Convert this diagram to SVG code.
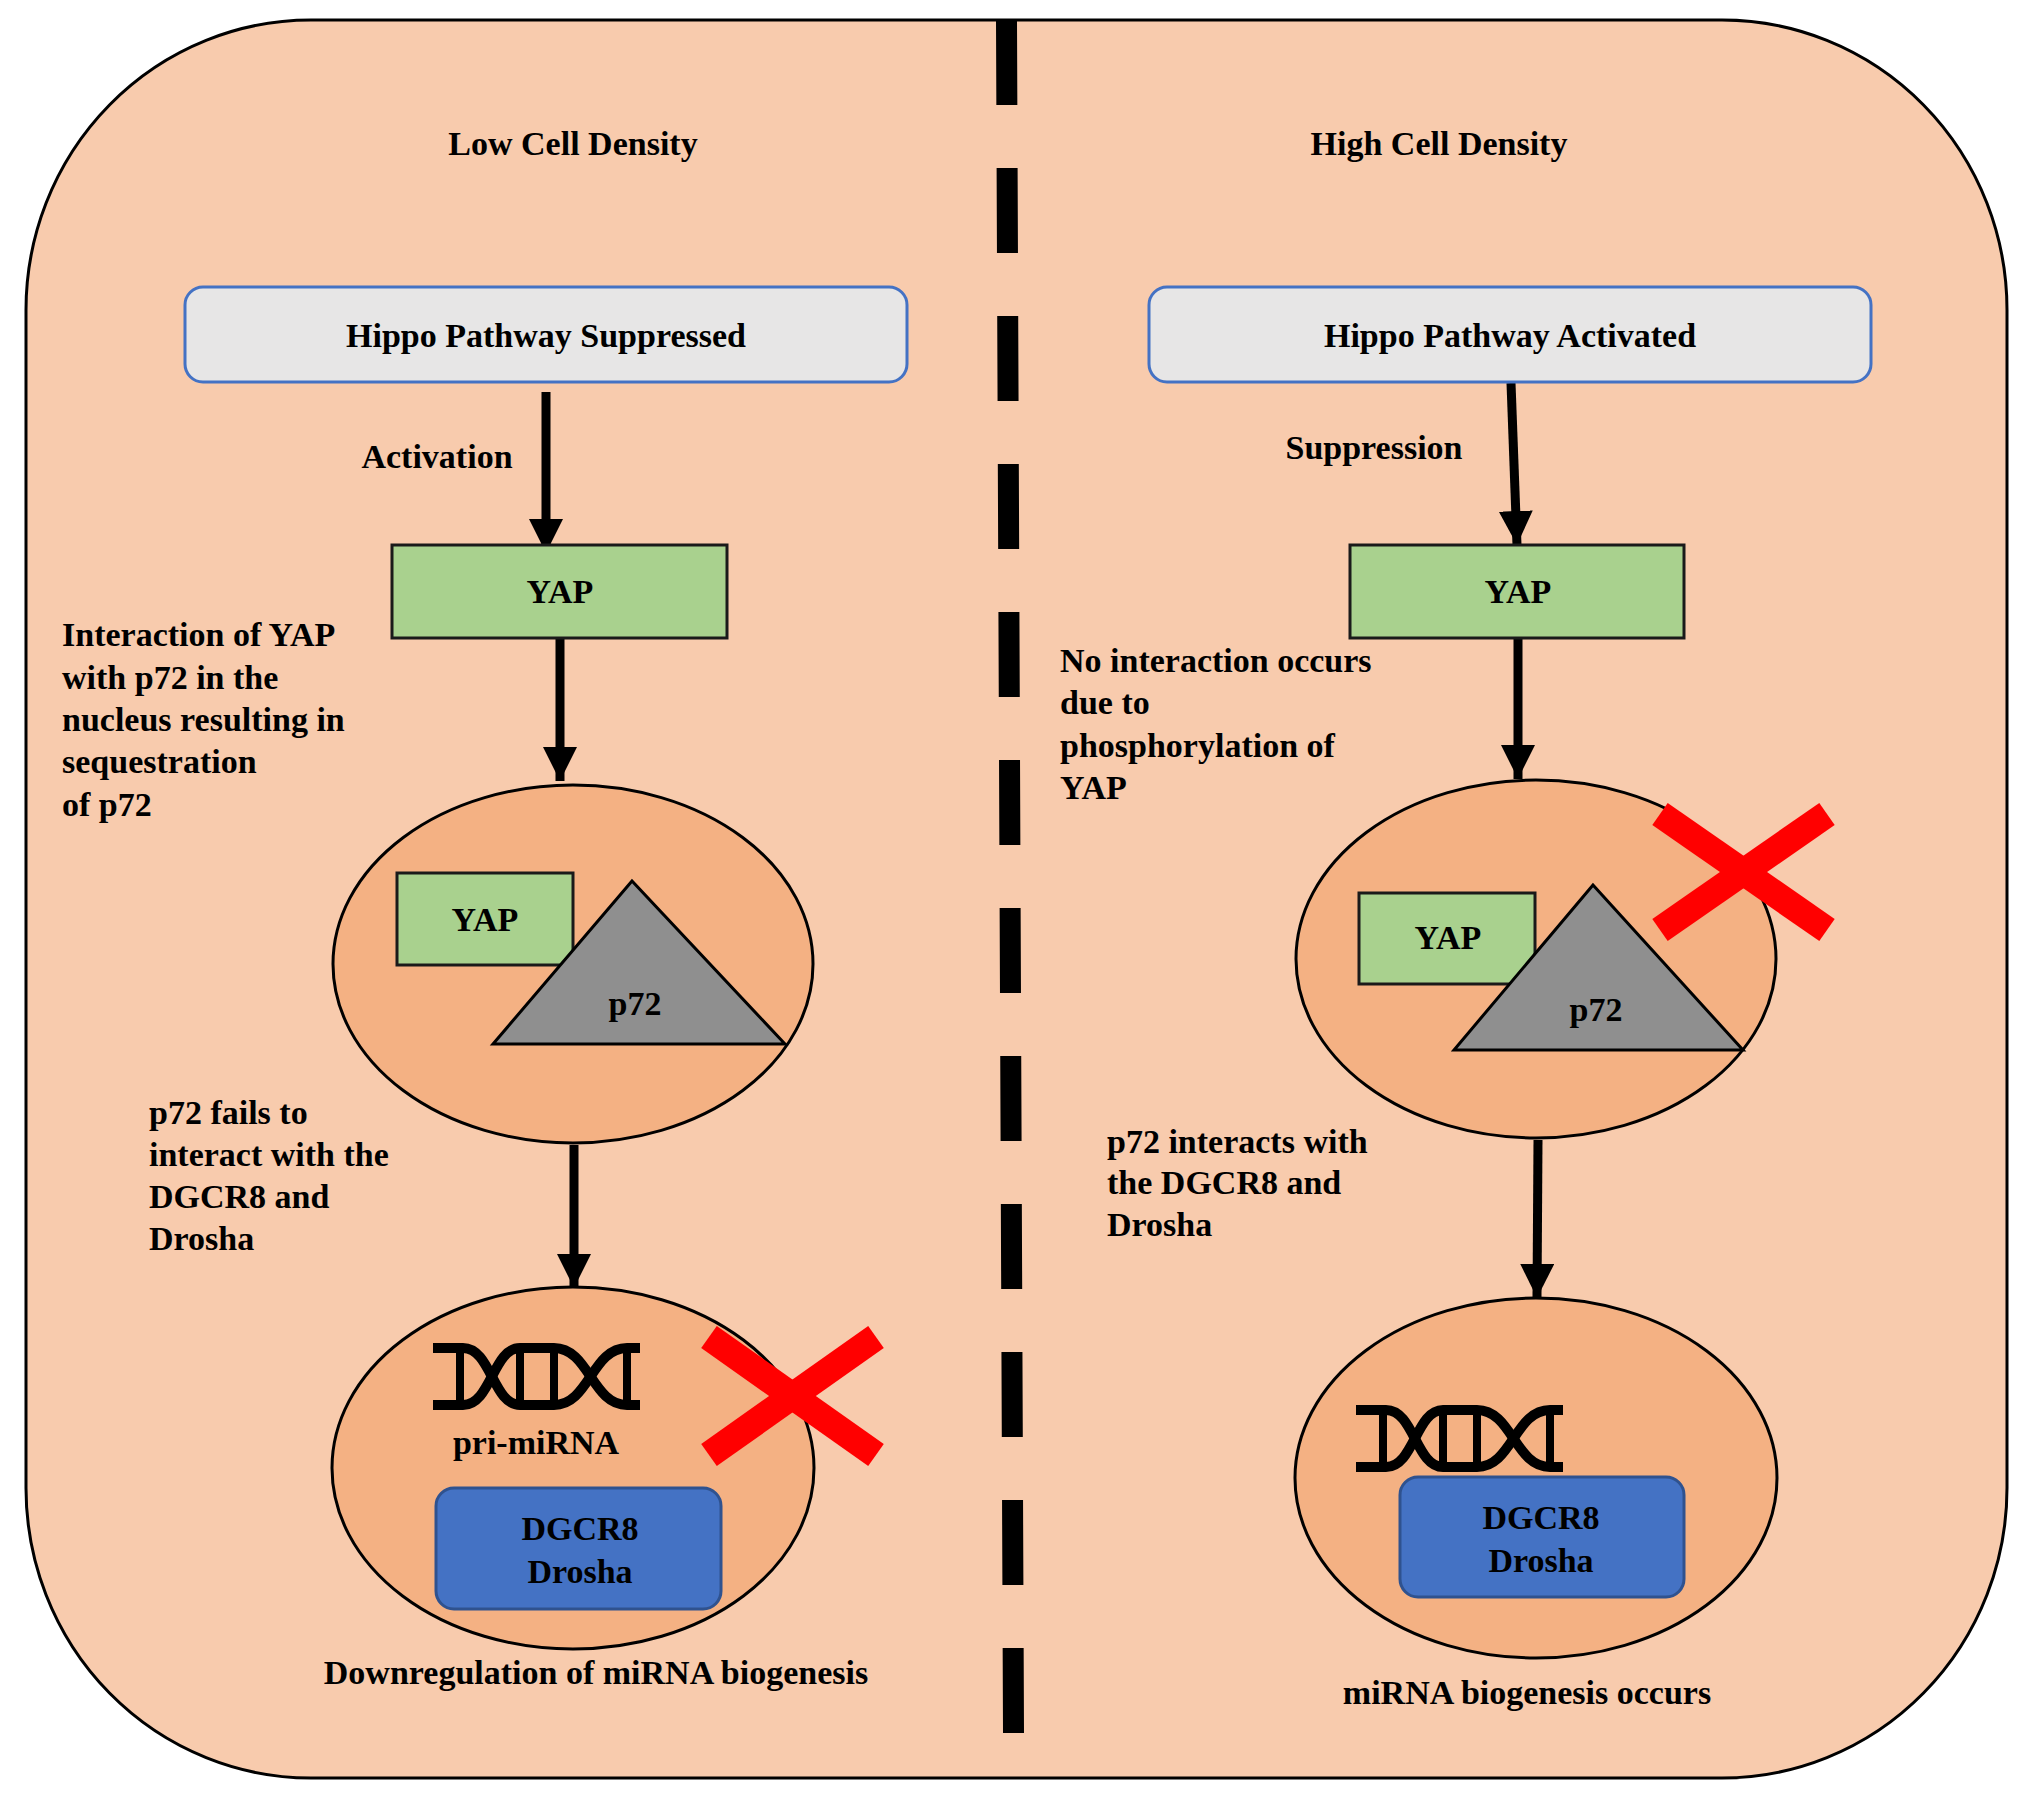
<svg xmlns="http://www.w3.org/2000/svg" xmlns:xlink="http://www.w3.org/1999/xlink" width="2032" height="1799" viewBox="0 0 2032 1799">
<defs>
<style>
text{font-family:"Liberation Serif","Times New Roman",serif;font-weight:bold;font-size:34px;fill:#000}
.mid{text-anchor:middle}
.hippo{fill:#E7E6E6;stroke:#4472C4;stroke-width:3}
.yap{fill:#A9D18E;stroke:#1a1a1a;stroke-width:3}
.nuc{fill:#F4B183;stroke:#000;stroke-width:3}
.p72{fill:#8F8F8F;stroke:#000;stroke-width:3;stroke-linejoin:miter}
.blue{fill:#4472C4;stroke:#2F528F;stroke-width:3}
.arrow{stroke:#000;stroke-width:9;fill:none;marker-end:url(#ah)}
.xmark{stroke:#FF0000;stroke-width:27;stroke-linecap:butt}
.strand{stroke:#000;stroke-width:10;fill:none}
.rung{stroke:#000;stroke-width:8}
</style>
<marker id="ah" markerUnits="userSpaceOnUse" markerWidth="34" markerHeight="34" viewBox="0 0 32 32" refX="32" refY="16" orient="auto">
<path d="M0,0 L32,16 L0,32 z" fill="#000"/>
</marker>
<g id="dna">
<path class="strand" d="M0,5 H30 C58,5 60,62 87,62 H121 C156,62 159,5 194,5 H207"/>
<path class="strand" d="M0,62 H30 C58,62 60,5 87,5 H121 C156,5 159,62 194,62 H207"/>
<line class="rung" x1="27" y1="5" x2="27" y2="62"/>
<line class="rung" x1="87" y1="5" x2="87" y2="62"/>
<line class="rung" x1="121" y1="5" x2="121" y2="62"/>
<line class="rung" x1="194" y1="5" x2="194" y2="62"/>
</g>
</defs>

<g id="background">
<rect x="26" y="20" width="1981" height="1758" rx="285" ry="290" fill="#F8CBAD" stroke="#000" stroke-width="3"/>
<line x1="1006.5" y1="20" x2="1013.5" y2="1733" stroke="#000" stroke-width="21" stroke-dasharray="85 63"/>
</g>

<g id="titles">
<text class="mid" x="573" y="155">Low Cell Density</text>
<text class="mid" x="1439" y="155">High Cell Density</text>
</g>

<g id="connectors">
<line class="arrow" x1="546" y1="392" x2="546" y2="553"/>
<line class="arrow" x1="560" y1="639" x2="560" y2="781"/>
<line class="arrow" x1="574" y1="1145" x2="574" y2="1288"/>
<line class="arrow" x1="1511" y1="383" x2="1517" y2="545"/>
<line class="arrow" x1="1518" y1="639" x2="1518" y2="779"/>
<line class="arrow" x1="1538" y1="1140" x2="1537" y2="1298"/>
</g>

<g id="hippo-suppressed">
<rect class="hippo" x="185" y="287" width="722" height="95" rx="18"/>
<text class="mid" x="546" y="347">Hippo Pathway Suppressed</text>
</g>
<g id="hippo-activated">
<rect class="hippo" x="1149" y="287" width="722" height="95" rx="18"/>
<text class="mid" x="1510" y="347">Hippo Pathway Activated</text>
</g>

<g id="label-activation"><text class="mid" x="437" y="468">Activation</text></g>
<g id="label-suppression"><text class="mid" x="1374" y="459">Suppression</text></g>

<g id="yap-left">
<rect class="yap" x="392" y="545" width="335" height="93"/>
<text class="mid" x="560" y="603">YAP</text>
</g>
<g id="yap-right">
<rect class="yap" x="1350" y="545" width="334" height="93"/>
<text class="mid" x="1518" y="603">YAP</text>
</g>

<g id="note-left-1">
<text x="62" y="646">Interaction of YAP</text>
<text x="62" y="689">with p72 in the</text>
<text x="62" y="731">nucleus resulting in</text>
<text x="62" y="773">sequestration</text>
<text x="62" y="816">of p72</text>
</g>
<g id="note-right-1">
<text x="1060" y="672">No interaction occurs</text>
<text x="1060" y="714">due to</text>
<text x="1060" y="757">phosphorylation of</text>
<text x="1060" y="799">YAP</text>
</g>

<g id="nucleus-left-1">
<ellipse class="nuc" cx="573" cy="964" rx="240" ry="179"/>
<rect class="yap" x="397" y="873" width="176" height="92"/>
<text class="mid" x="485" y="931">YAP</text>
<polygon class="p72" points="632,881 493,1044 785,1044"/>
<text class="mid" x="635" y="1015">p72</text>
</g>
<g id="nucleus-right-1">
<ellipse class="nuc" cx="1536" cy="959" rx="240" ry="179"/>
<rect class="yap" x="1359" y="893" width="176" height="91"/>
<text class="mid" x="1448" y="949">YAP</text>
<polygon class="p72" points="1593,885 1454,1050 1743,1050"/>
<text class="mid" x="1596" y="1021">p72</text>
</g>
<g id="x-right">
<line class="xmark" x1="1660" y1="814" x2="1827" y2="930"/>
<line class="xmark" x1="1827" y1="814" x2="1660" y2="930"/>
</g>

<g id="note-left-2">
<text x="149" y="1124">p72 fails to</text>
<text x="149" y="1166">interact with the</text>
<text x="149" y="1208">DGCR8 and</text>
<text x="149" y="1250">Drosha</text>
</g>
<g id="note-right-2">
<text x="1107" y="1153">p72 interacts with</text>
<text x="1107" y="1194">the DGCR8 and</text>
<text x="1107" y="1236">Drosha</text>
</g>

<g id="nucleus-left-2">
<ellipse class="nuc" cx="573" cy="1468" rx="241" ry="181"/>
<use xlink:href="#dna" href="#dna" transform="translate(433,1343)"/>
<text class="mid" x="536" y="1454">pri-miRNA</text>
<rect class="blue" x="436" y="1488" width="285" height="121" rx="18"/>
<text class="mid" x="580" y="1540">DGCR8</text>
<text class="mid" x="580" y="1583">Drosha</text>
</g>
<g id="x-left">
<line class="xmark" x1="709" y1="1337" x2="876" y2="1455"/>
<line class="xmark" x1="876" y1="1337" x2="709" y2="1455"/>
</g>
<g id="nucleus-right-2">
<ellipse class="nuc" cx="1536" cy="1478" rx="241" ry="180"/>
<use xlink:href="#dna" href="#dna" transform="translate(1356,1405)"/>
<rect class="blue" x="1400" y="1477" width="284" height="120" rx="18"/>
<text class="mid" x="1541" y="1529">DGCR8</text>
<text class="mid" x="1541" y="1572">Drosha</text>
</g>

<g id="result-left"><text class="mid" x="596" y="1684">Downregulation of miRNA biogenesis</text></g>
<g id="result-right"><text class="mid" x="1527" y="1704">miRNA biogenesis occurs</text></g>
</svg>
